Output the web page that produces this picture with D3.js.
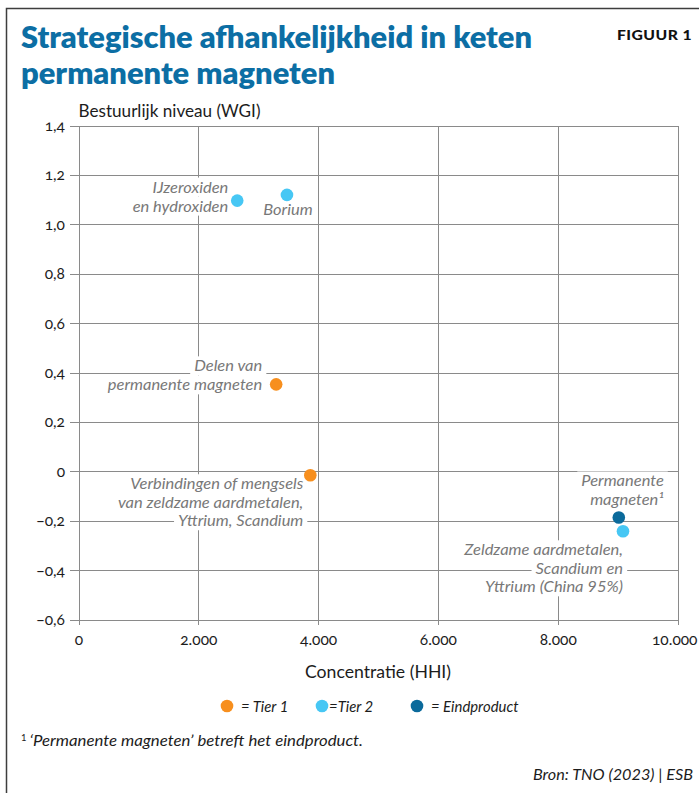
<!DOCTYPE html>
<html><head><meta charset="utf-8">
<script src="https://cdn.jsdelivr.net/npm/d3@7"></script>
<style>
html,body{margin:0;padding:0;background:#fff;}
svg{display:block;}
text{font-family:Lato,'Noto Sans',sans-serif;}
</style></head>
<body>
<script>
// ---------- data ----------
const pointNames = [
  ["IJzeroxiden","en hydroxiden"],
  ["Borium"],
  ["Delen van","permanente magneten"],
  ["Verbindingen of mengsels","van zeldzame aardmetalen,","Yttrium, Scandium"],
  ["Permanente","magneten\u00B9"],
  ["Zeldzame aardmetalen,","Scandium en","Yttrium (China 95%)"]
];
const hhiValues = [2650, 3480, 3300, 3870, 9020, 9090];
const wgiValues = [1.096, 1.119, 0.352, -0.016, -0.187, -0.243];
const pointTiers = ["Tier 2","Tier 2","Tier 1","Tier 1","Eindproduct","Tier 2"];
const tierNames = ["Tier 1","Tier 2","Eindproduct"];
const legendLabels = ["= Tier 1","=Tier 2","= Eindproduct"];
const xTicks = [0,2000,4000,6000,8000,10000];
const yTicks = [-0.6,-0.4,-0.2,0,0.2,0.4,0.6,0.8,1.0,1.2,1.4];
const titleLines = ["Strategische afhankelijkheid in keten","permanente magneten"];
const figLabel = "FIGUUR 1";
const yTitle = "Bestuurlijk niveau (WGI)";
const xTitle = "Concentratie (HHI)";
const footnote = "\u2018Permanente magneten\u2019 betreft het eindproduct.";
const source = "Bron: TNO (2023) | ESB";

// ---------- layout ----------
const W = 699, H = 793;
const L = 78.5, R = 677.5, T = 125.5, B = 619.5;
const colors = {"Tier 1":"#f78f1e","Tier 2":"#47c7f4","Eindproduct":"#0b6a9b"};
const gridColor = "#8a8a8a";
const labelGray = "#787878";
const ink = "#1c1c1c";

const nl = d3.formatLocale({decimal:",",thousands:".",grouping:[3],currency:["",""],minus:"\u2212"});
const fx = nl.format(",");
const fy = d => Math.abs(d) < 1e-9 ? "0" : nl.format(".1f")(d);

const svg = d3.select("body").append("svg").attr("width",W).attr("height",H);

const x = d3.scaleLinear().domain([0,10000]).range([L,R]);
const y = d3.scaleLinear().domain([-0.6,1.4]).range([B,T]);
const color = d3.scaleOrdinal().domain(tierNames).range(tierNames.map(t=>colors[t]));

function condense(sel, target){
  const n = sel.node().getComputedTextLength();
  if (Math.abs(n-target) > 0.5) sel.attr("textLength", target).attr("lengthAdjust","spacingAndGlyphs");
  return n;
}

// frame
svg.append("path").attr("d",`M6.5,${H} V8.5 H${W}`).attr("fill","none").attr("stroke","#3d3d3d").attr("stroke-width",1.5);

// title
const titleG = svg.append("g");
const tl = titleLines.map((t,i)=> titleG.append("text").attr("x",21).attr("y",48+i*35.5)
  .attr("fill","#0c6ea4").attr("font-size",30).attr("font-weight",800).text(t));
const tk = 511 / tl[0].node().getComputedTextLength();
tl.forEach(s=>condense(s, s.node().getComputedTextLength()*tk));

const fig = svg.append("text").attr("x",692).attr("y",40).attr("text-anchor","end")
  .attr("font-size",14).attr("font-weight",900).attr("fill","#111").attr("letter-spacing",0.4).text(figLabel);
condense(fig, 75);

// y axis title
const yt = svg.append("text").attr("x",L).attr("y",117).attr("font-size",17.5).attr("fill",ink).text(yTitle);
condense(yt, 182);

// grid / axes
const yAxis = svg.append("g").attr("transform",`translate(${R},0)`)
  .call(d3.axisLeft(y).tickValues(yTicks).tickSize(R-70).tickPadding(5).tickFormat(fy));
const xAxis = svg.append("g").attr("transform",`translate(0,${T})`)
  .call(d3.axisBottom(x).tickValues(xTicks).tickSize(B-T+5).tickPadding(9).tickFormat(fx));
[yAxis,xAxis].forEach(a=>{
  a.select(".domain").remove();
  a.selectAll(".tick line").attr("stroke",gridColor).attr("stroke-width",1).attr("shape-rendering","crispEdges");
  a.selectAll(".tick text").attr("font-family","Lato,'Noto Sans',sans-serif").attr("font-size",15.5)
    .attr("fill",ink).style("font-variant-numeric","oldstyle-nums");
});
// keep the last x label inside the frame
xAxis.selectAll(".tick text").filter(d=>d===10000).attr("text-anchor","end").attr("x",W-2-R);

// x axis title
const xt = svg.append("text").attr("x",(L+R)/2).attr("y",678).attr("text-anchor","middle")
  .attr("font-size",17.5).attr("fill",ink).text(xTitle);
condense(xt, 146);

// annotations
const FS = 14.8;
const labelLayout = [
  {anchor:"end", dx:-9, dy:[-8,11]},
  {anchor:"middle", dx:1, dy:[20]},
  {anchor:"end", dx:-14, dy:[-13,6]},
  {anchor:"end", dx:-7, dy:[14,32.5,51]},
  {anchor:"end", dx:45, dy:[-31,-12.5]},
  {anchor:"end", dx:0, dy:[24,42.5,61]}
];
const annG = svg.append("g");
const ref = annG.append("text").attr("font-size",FS).attr("font-style","italic").text("Verbindingen of mengsels");
const ak = 173 / ref.node().getComputedTextLength();
ref.remove();
const lineNodes = [];
pointNames.forEach((lines,i)=>{
  const lay = labelLayout[i];
  const px = x(hhiValues[i]), py = y(wgiValues[i]);
  lines.forEach((ln,j)=>{
    const t = annG.append("text").attr("x",px+lay.dx).attr("y",py+lay.dy[j])
      .attr("text-anchor",lay.anchor).attr("font-size",FS).attr("font-style","italic")
      .attr("fill",labelGray).text(ln);
    condense(t, t.node().getComputedTextLength()*ak);
    lineNodes.push(t);
  });
});
lineNodes.forEach(t=>{
  const b = t.node().getBBox();
  annG.insert("rect", "text").attr("x",b.x-4).attr("y",b.y).attr("width",b.width+8).attr("height",b.height+1)
    .attr("fill","#fff");
});

// points
svg.append("g").selectAll("circle").data(hhiValues).join("circle")
  .attr("cx",(d)=>x(d)).attr("cy",(d,i)=>y(wgiValues[i])).attr("r",6.3)
  .attr("fill",(d,i)=>color(pointTiers[i]));

// legend
const lx = d3.scalePoint().domain(tierNames).range([227,417]);
const lg = svg.append("g");
tierNames.forEach((t,i)=>{
  lg.append("circle").attr("cx",lx(t)).attr("cy",706).attr("r",6.3).attr("fill",color(t));
  const tx = lg.append("text").attr("x",lx(t)+(i===1?7:14)).attr("y",711.5).attr("font-size",16)
    .attr("font-style","italic").attr("fill",ink).text(legendLabels[i]);
  condense(tx, tx.node().getComputedTextLength()*0.93);
});

// footnote & source
const fn = svg.append("text").attr("x",21).attr("y",746).attr("font-size",16).attr("font-style","italic").attr("fill",ink);
fn.append("tspan").attr("font-size",9).attr("font-style","normal").attr("dy",-5).text("1");
fn.append("tspan").attr("dy",5).attr("dx",3).text(footnote);
condense(fn, 342);
const src = svg.append("text").attr("x",693).attr("y",780).attr("text-anchor","end").attr("font-size",16)
  .attr("font-style","italic").attr("fill",ink).text(source);
condense(src, 160);
</script>
</body></html>
